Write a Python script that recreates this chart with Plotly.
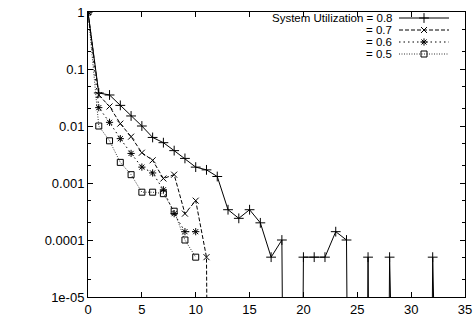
import plotly.graph_objects as go

# ---- data ----
x08 = list(range(0, 36))
p08 = [1, 0.038, 0.035, 0.023, 0.015, 0.010, 0.0063, 0.0051, 0.0037, 0.0027,
       0.0019, 0.0017, 0.0013, 0.00034, 0.00024, 0.00034, 0.00020, 0.00005, 0.0001, 0,
       0.00005, 0.00005, 0.00005, 0.00014, 0.0001, 0, 0.00005, 0, 0.00005, 0,
       0, 0, 0.00005, 0, 0, 0]
x07 = list(range(0, 13))
p07 = [1, 0.035, 0.022, 0.011, 0.0065, 0.0034, 0.0025, 0.0012, 0.0014, 0.00029,
       0.00049, 0.00005, 0]
x06 = list(range(0, 11))
p06 = [1, 0.021, 0.0116, 0.006, 0.0033, 0.0019, 0.0015, 0.00076, 0.00029, 0.00014,
       0.00014]
x05 = list(range(0, 11))
p05 = [1, 0.010, 0.0055, 0.0023, 0.0014, 0.00069, 0.00069, 0.00065, 0.00032, 0.0001,
       0.00005]

series_labels = ["System Utilization = 0.8", "= 0.7", "= 0.6", "= 0.5"]
y_tickvals = [1, 0.1, 0.01, 0.001, 0.0001, 0.00001]
y_ticktext = ["1", "0.1", "0.01", "0.001", "0.0001", "1e-05"]
x_tickvals = [0, 5, 10, 15, 20, 25, 30, 35]

FLOOR = 1e-30  # zero probabilities drawn far below the axis (like -inf)

def floor0(v):
    return [p if p > 0 else FLOOR for p in v]

styles = [
    dict(dash="solid", symbol="cross-thin-open", size=7, lw=1.0),
    dict(dash="4px,2px", symbol="x-thin-open", size=6, lw=1.0),
    dict(dash="1.5px,3px", symbol="asterisk-open", size=6, lw=1.0),
    dict(dash="1px,1.5px", symbol="square-open", size=6, lw=0.8),
]

data = [(x08, p08), (x07, p07), (x06, p06), (x05, p05)]
FONT = "Liberation Sans, Arial, Helvetica, sans-serif"

fig = go.Figure()
for (xs, ps), st, name in zip(data, styles, series_labels):
    fig.add_trace(go.Scatter(
        x=xs, y=floor0(ps), mode="lines+markers", name=name, showlegend=False,
        line=dict(color="black", width=st["lw"], dash=st["dash"]),
        marker=dict(symbol=st["symbol"], size=st["size"], color="black",
                    line=dict(color="black", width=1)),
    ))

# ---- legend drawn on a pixel-unit overlay axis (text left, sample right) ----
leg_rows = [18, 30, 42, 54]
for (row, st, name) in zip(leg_rows, styles, series_labels):
    fig.add_trace(go.Scatter(
        x=[399, 449], y=[row, row], xaxis="x2", yaxis="y2", mode="lines",
        line=dict(color="black", width=st["lw"], dash=st["dash"]),
        showlegend=False, hoverinfo="skip"))
    fig.add_trace(go.Scatter(
        x=[424], y=[row], xaxis="x2", yaxis="y2", mode="markers",
        marker=dict(symbol=st["symbol"], size=st["size"], color="black",
                    line=dict(color="black", width=1)),
        showlegend=False, hoverinfo="skip"))
    fig.add_annotation(x=394, y=row, xref="x2", yref="y2", text=name,
                       showarrow=False, xanchor="right", yanchor="middle",
                       font=dict(family=FONT, size=11.5, color="black"))

# axis titles
fig.add_annotation(x=276, y=328, xref="x2", yref="y2", text="Number of emergency actions",
                   showarrow=False, xanchor="center", yanchor="middle",
                   font=dict(family=FONT, size=13, color="black"))
fig.add_annotation(x=14, y=155, xref="x2", yref="y2", text="Probability", textangle=-90,
                   showarrow=False, xanchor="center", yanchor="middle",
                   font=dict(family=FONT, size=13, color="black"))

minor_vals = []
for d in [1e-5, 1e-4, 1e-3, 1e-2, 1e-1]:
    minor_vals += [2 * d, 5 * d]

fig.update_layout(
    width=476, height=336,
    margin=dict(l=88, r=11, t=12, b=39, autoexpand=False),
    paper_bgcolor="white", plot_bgcolor="white",
    font=dict(family=FONT, size=13, color="black"),
    xaxis=dict(range=[0, 35], tickvals=x_tickvals, ticks="inside", ticklen=5,
               tickcolor="black", showline=True, linecolor="black", linewidth=1,
               mirror="ticks", showgrid=False, zeroline=False, automargin=False,
               tickfont=dict(size=13)),
    yaxis=dict(type="log", range=[-5, 0], tickvals=y_tickvals, ticktext=y_ticktext,
               ticks="inside", ticklen=5, tickcolor="black", showline=True,
               linecolor="black", linewidth=1, mirror="ticks", showgrid=False,
               zeroline=False, automargin=False, tickfont=dict(size=13),
               minor=dict(tickmode="array", tickvals=minor_vals, ticks="inside",
                          ticklen=3, tickcolor="black", showgrid=False)),
    xaxis2=dict(range=[88, 465], overlaying="x", visible=False, fixedrange=True,
                automargin=False),
    yaxis2=dict(range=[297, 12], overlaying="y", visible=False, fixedrange=True,
                automargin=False),
)

fig.write_html("out.html")
